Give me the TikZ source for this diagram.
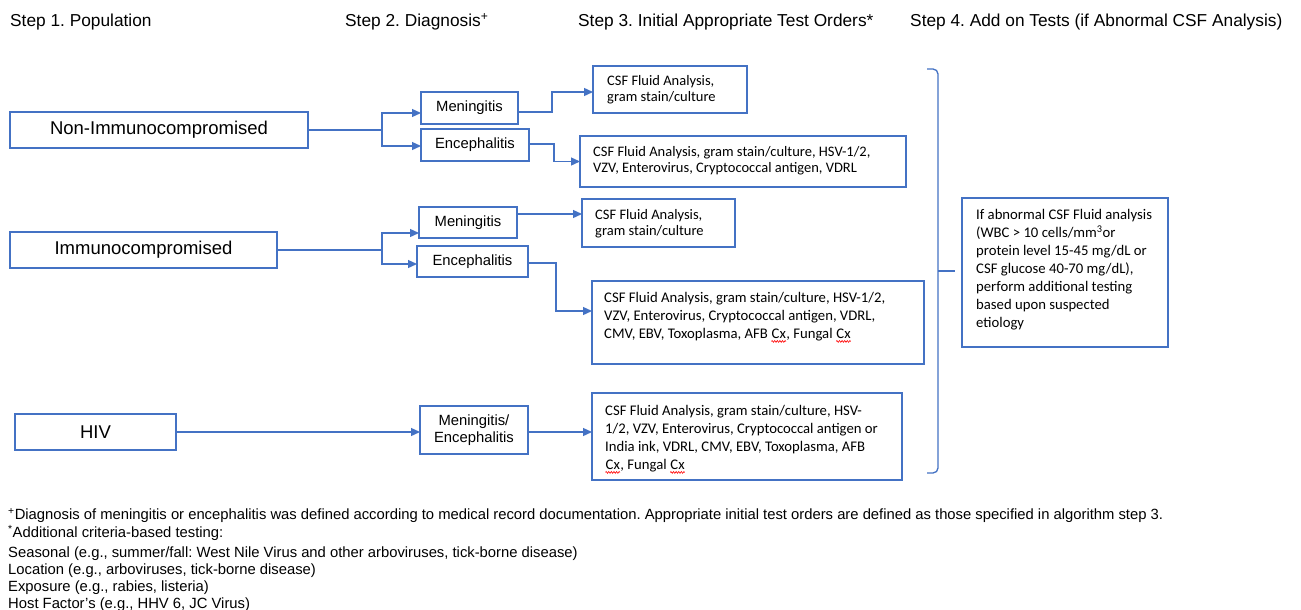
\documentclass[tikz,border=0pt]{standalone}
\usepackage{fontspec}
\setmainfont{Liberation Sans}
\newfontfamily\carfont{Carlito}
\usetikzlibrary{arrows.meta,decorations.pathmorphing}
\definecolor{lb}{HTML}{4472C4}
\frenchspacing
\newcommand\redwave[1]{\tikz[baseline=(rw.base), x=1pt, y=1pt]{\node[inner sep=0pt, anchor=base] (rw) {#1}; \draw[red, line width=0.6pt, decorate, decoration={zigzag, amplitude=0.9pt, segment length=2.6pt}] ([yshift=-3pt]rw.base west) -- ([yshift=-3pt]rw.base east);}}
\tikzset{
  box/.style={draw=lb, line width=1.3pt, inner sep=0pt, outer sep=0pt, anchor=north west},
  ln/.style={draw=lb, line width=1.3pt},
  arr/.style={draw=lb, line width=1.3pt, -{Triangle[length=9pt,width=8pt]}},
  hdr/.style={anchor=base west, inner sep=0pt, font=\fontsize{17.3}{20}\selectfont},
  bigtxt/.style={font=\fontsize{18.5}{22}\selectfont},
  dgtxt/.style={font=\fontsize{14.8}{17}\selectfont, align=center},
  csf/.style={anchor=north west, inner sep=0pt, align=left, font=\carfont\fontsize{14.7}{18}\selectfont},
  csfs/.style={csf, font=\carfont\fontsize{14.5}{16}\selectfont},
  fn/.style={anchor=base west, inner sep=0pt, font=\fontsize{14.8}{17.8}\selectfont}
}
\begin{document}
\begin{tikzpicture}[x=1pt, y=-1pt]
\useasboundingbox (0,0) rectangle (1301,610);
\fill[white] (0,0) rectangle (1301,610);

% headers
\node[hdr] (h1) at (10,27) {Step 1. Population};
\node[hdr] (h2) at (345,27) {Step 2. Diagnosis\textsuperscript{+}};
\node[hdr] (h3) at (578,27) {Step 3. Initial Appropriate Test Orders*};
\node[hdr] (h4) at (910,27) {Step 4. Add on Tests (if Abnormal CSF Analysis)};

% population boxes
\node[box, bigtxt, minimum width=298pt, minimum height=36pt] (ni) at (10,112) {Non-Immunocompromised};
\node[box, bigtxt, minimum width=267pt, minimum height=36pt] (im) at (10,232) {Immunocompromised};
\node[box, bigtxt, minimum width=161pt, minimum height=36pt] (hiv) at (15,414) {HIV};

% diagnosis boxes
\node[box, dgtxt, minimum width=97pt, minimum height=32pt] (m1) at (421,92) {Meningitis};
\node[box, dgtxt, minimum width=108pt, minimum height=32pt] (e1) at (421,129) {Encephalitis};
\node[box, dgtxt, minimum width=98pt, minimum height=31pt] (m2) at (419,207) {Meningitis};
\node[box, dgtxt, minimum width=111pt, minimum height=31pt] (e2) at (417,246) {Encephalitis};
\node[box, dgtxt, minimum width=108pt, minimum height=48pt] (me) at (420,406) {Meningitis/\\Encephalitis};

% test boxes
\node[box, minimum width=154pt, minimum height=47pt] (c1) at (593,66) {};
\node[box, minimum width=326pt, minimum height=51pt] (c2) at (580,136) {};
\node[box, minimum width=153pt, minimum height=48pt] (c3) at (582,199) {};
\node[box, minimum width=332pt, minimum height=83pt] (c4) at (592,281) {};
\node[box, minimum width=310pt, minimum height=87pt] (c5) at (592,393) {};
\node[box, minimum width=206pt, minimum height=149pt] (fin) at (962,198) {};

\node[csfs] (t1) at (607,75.5) {CSF Fluid Analysis,\\gram stain/culture};
\node[csfs] (t2) at (593,146) {CSF Fluid Analysis, gram stain/culture, HSV-1/2,\\VZV, Enterovirus, Cryptococcal antigen, VDRL};
\node[csfs] (t3) at (595,209.5) {CSF Fluid Analysis,\\gram stain/culture};
\node[csf] (t4) at (604,292) {CSF Fluid Analysis, gram stain/culture, HSV-1/2,\\VZV, Enterovirus, Cryptococcal antigen, VDRL,\\CMV, EBV, Toxoplasma, AFB \redwave{Cx}, Fungal \redwave{Cx}};
\node[csf] (t5) at (605,405) {CSF Fluid Analysis, gram stain/culture, HSV-\\1/2, VZV, Enterovirus, Cryptococcal antigen or\\India ink, VDRL, CMV, EBV, Toxoplasma, AFB\\\redwave{Cx}, Fungal \redwave{Cx}};
\node[csf] (t6) at (976,209) {If abnormal CSF Fluid analysis\\(WBC > 10 cells/mm\textsuperscript{3}or\\protein level 15-45 mg/dL or\\CSF glucose 40-70 mg/dL),\\perform additional testing\\based upon suspected\\etiology};

% connectors
\coordinate (j1) at (ni.east -| 382,0);
\coordinate (j2) at (im.east -| 382,0);
\draw[ln] (ni.east) -- (j1);
\draw[arr] (j1) |- (m1.west |- 0,113);
\draw[arr] (j1) |- (e1.west |- 0,146);
\draw[arr] (m1.east |- 0,112) -- (552,112) |- (c1.west |- 0,92);
\draw[arr] (e1.east |- 0,144) -- (554,144) |- (c2.west);
\draw[ln] (im.east) -- (j2);
\draw[arr] (j2) |- (m2.west |- 0,233);
\draw[arr] (j2) |- (e2.west |- 0,264);
\draw[arr] (m2.east |- 0,214) -- (c3.west |- 0,214);
\draw[arr] (e2.east |- 0,263) -- (556,263) |- (c4.west |- 0,311);
\draw[arr] (hiv.east) -- (me.west |- hiv.east);
\draw[arr] (me.east |- 0,432) -- (c5.west |- 0,432);

% bracket
\coordinate (brk) at (955,271);
\draw[ln, rounded corners=5pt] (927,69) -- (938,69) -- (938,473) -- (927,473);
\draw[ln] (938,271) -- (brk);

% footnotes
\node[fn] (fn1) at (8,519.5) {\textsuperscript{+}Diagnosis of meningitis or encephalitis was defined according to medical record documentation. Appropriate initial test orders are defined as those specified in algorithm step 3.};
\node[fn] (fn2) at (8,537.5) {\textsuperscript{*}Additional criteria-based testing:};
\node[fn] (fn3) at (8,557) {Seasonal (e.g., summer/fall: West Nile Virus and other arboviruses, tick-borne disease)};
\node[fn] (fn4) at (8,574.5) {Location (e.g., arboviruses, tick-borne disease)};
\node[fn] (fn5) at (8,591.5) {Exposure (e.g., rabies, listeria)};
\node[fn] (fn6) at (8,608.5) {Host Factor's (e.g., HHV 6, JC Virus)};
\end{tikzpicture}
\end{document}
